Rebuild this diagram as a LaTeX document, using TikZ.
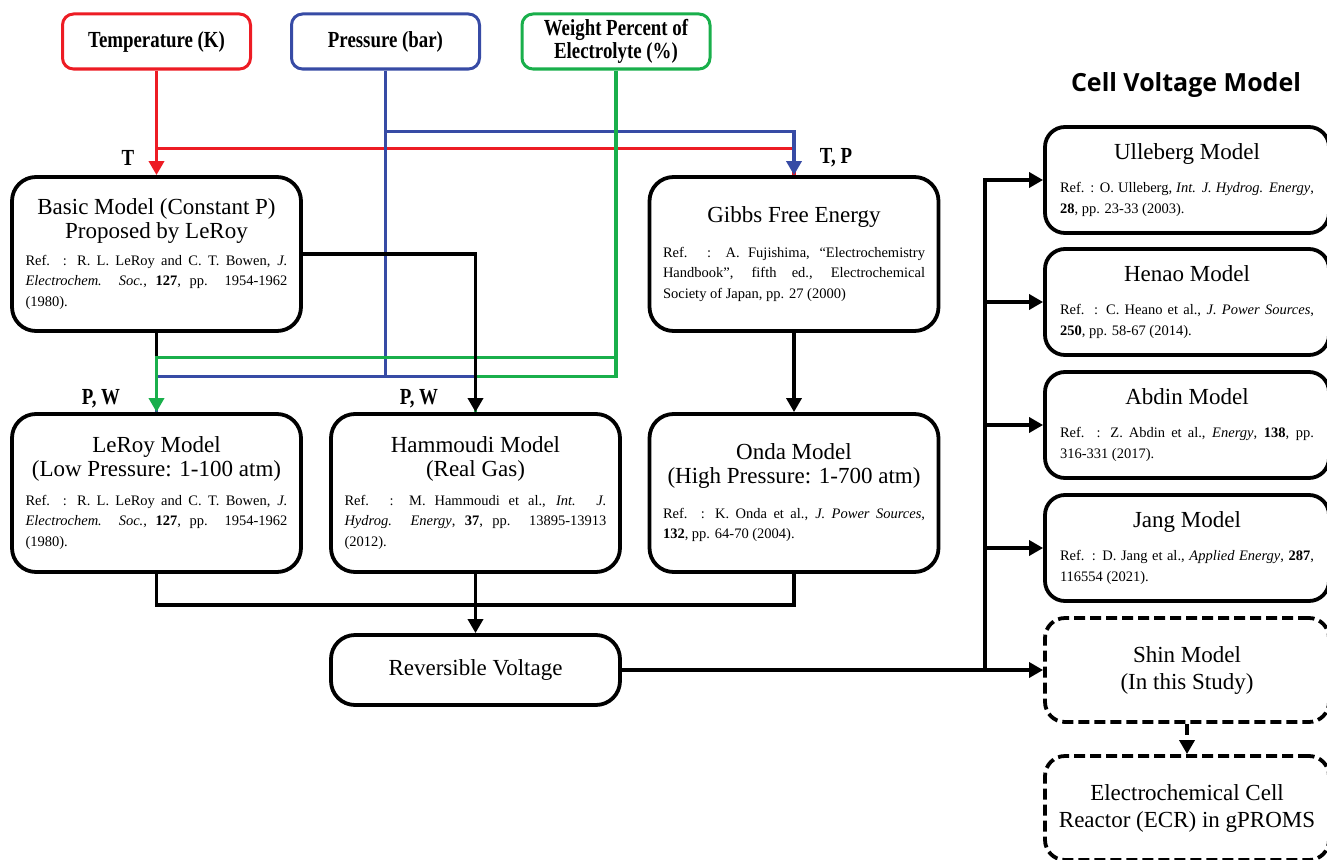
\documentclass[tikz,border=0pt]{standalone}
\usepackage{fontspec}
\setmainfont{Liberation Serif}
\newfontfamily\hdrfont{Liberation Serif}[FakeStretch=0.82]
\newfontfamily\cvfont{Open Sans}
\usetikzlibrary{arrows.meta,positioning}
\definecolor{tred}{RGB}{237,28,36}
\definecolor{pblue}{RGB}{55,75,165}
\definecolor{wgreen}{RGB}{25,175,75}
\newcommand{\mdl}[3][8pt]{{\centering\fontsize{23}{24}\selectfont #2\par}\vspace{#1}{\hyphenpenalty=10000\fontsize{14.5}{20.5}\selectfont #3\par}}
\tikzset{
  box/.style={draw, line width=3.8pt, rounded corners=24pt, minimum width=289pt, minimum height=154pt},
  mbox/.style={box, text width=262pt, align=justify},
  rbox/.style={mbox, rounded corners=20pt, minimum width=284pt, minimum height=106pt, text width=254pt},
  inbox/.style={draw, line width=3pt, rounded corners=11pt, minimum width=188pt, minimum height=55pt, align=center, font=\hdrfont\bfseries\fontsize{23}{23}\selectfont},
  lbl/.style={font=\hdrfont\bfseries\fontsize{23}{23}\selectfont},
  conn/.style={line width=3.4pt},
  dashbox/.style={dash pattern=on 11pt off 5pt},
  ttl/.style={font=\fontsize{23}{27}\selectfont}
}

\begin{document}
\begin{tikzpicture}[x=1pt, y=-1pt, >={Triangle[length=14pt,width=15pt]}]
    \path[use as bounding box] (0,0) rectangle (1327,859);
    \clip (0,0) rectangle (1327,859);

    \node[inbox, tred] (temp) at (156.5,41.5) {\color{black}Temperature (K)};
    \node[inbox, pblue] (press) at (385.5,41.5) {\color{black}Pressure (bar)};
    \node[inbox, wgreen] (wt) at (616,41.5) {\color{black}Weight Percent of\\\color{black}Electrolyte (\%)};

    \node[mbox] (basic) at (156.5,254) {\mdl[6pt]{Basic Model (Constant P)\\Proposed by LeRoy}{Ref. : R. L. LeRoy and C. T. Bowen, \textit{J.}\linebreak \textit{Electrochem. Soc.}, \textbf{127}, pp. 1954-1962\linebreak (1980).}};
    \node[mbox] (gibbs) at (794,254) {\mdl[14pt]{Gibbs Free Energy}{Ref. : A. Fujishima, ``Electrochemistry\linebreak Handbook'', fifth ed., Electrochemical\linebreak Society of Japan, pp. 27 (2000)}};
    \node[mbox, minimum height=158pt] (leroy) at (156.5,493) {\mdl{LeRoy Model\\(Low Pressure: 1-100 atm)}{Ref. : R. L. LeRoy and C. T. Bowen, \textit{J.}\linebreak \textit{Electrochem. Soc.}, \textbf{127}, pp. 1954-1962\linebreak (1980).}};
    \node[mbox, minimum height=158pt] (hamm) at (475.5,493) {\mdl{Hammoudi Model\\(Real Gas)}{Ref. : M. Hammoudi et al., \textit{Int. J.}\linebreak \textit{Hydrog. Energy}, \textbf{37}, pp. 13895-13913\linebreak (2012).}};
    \node[mbox, minimum height=158pt] (onda) at (794,493) {\mdl[14pt]{Onda Model\\(High Pressure: 1-700 atm)}{Ref. : K. Onda et al., \textit{J. Power Sources},\linebreak \textbf{132}, pp. 64-70 (2004).}};
    \node[box, minimum height=70pt, ttl] (rev) at (475.5,670) {Reversible Voltage};

    \node[lbl] (tlbl) at (128,158) {T};
    \node[lbl] (tplbl) at (836,158) {T, P};
    \node[lbl] (pw1) at (101,399) {P, W};
    \node[lbl] (pw2) at (419,399) {P, W};

    \node[font=\cvfont\bfseries\fontsize{25}{25}\selectfont] (cvm) at (1186,85) {Cell Voltage Model};
    \node[rbox] (ulle) at (1187,180) {\mdl[13pt]{Ulleberg Model}{Ref. : O. Ulleberg, \textit{Int. J. Hydrog. Energy},\linebreak \textbf{28}, pp. 23-33 (2003).}};
    \node[rbox] (henao) at (1187,302) {\mdl[13pt]{Henao Model}{Ref. : C. Heano et al., \textit{J. Power Sources},\linebreak \textbf{250}, pp. 58-67 (2014).}};
    \node[rbox] (abdin) at (1187,425) {\mdl[13pt]{Abdin Model}{Ref. : Z. Abdin et al., \textit{Energy}, \textbf{138}, pp.\linebreak 316-331 (2017).}};
    \node[rbox] (jang) at (1187,548) {\mdl[13pt]{Jang Model}{Ref. : D. Jang et al., \textit{Applied Energy}, \textbf{287},\linebreak 116554 (2021).}};
    \node[box, rounded corners=20pt, dashbox, minimum width=284pt, minimum height=104pt, align=center, ttl] (shin) at (1187,670) {Shin Model\\(In this Study)};
    \node[box, rounded corners=20pt, dashbox, minimum width=284pt, minimum height=104pt, align=center, ttl] (ecr) at (1187,808) {Electrochemical Cell\\Reactor (ECR) in gPROMS};

    \draw[conn] (basic) -- (leroy);
    \draw[conn] (leroy.south) -- ++(0,31) -| (onda.south);
    \draw[conn,->] (hamm) -- (rev);
    \draw[conn,->] (gibbs) -- (onda);

    \draw[conn,tred,->] (temp) -- (basic);
    \draw[conn,tred] (temp.south) ++(0,78) -| (gibbs.north);

    \draw[conn,pblue] (press.south) -- ++(0,306) -| (leroy.north);
    \draw[conn,pblue] (press.south) ++(0,306) -| (hamm.north);
    \draw[conn,pblue,->] (press.south) ++(0,61) -| (gibbs.north);

    \draw[conn,wgreen,->] (wt.south) -- ++(0,287) -| (leroy.north);
    \draw[conn,wgreen] (wt.south) ++(0,287) -- ++(0,19) -| (hamm.north);

    \draw[conn,->] (basic.east) -| (hamm.north);

    \coordinate (split) at (985,670);
    \draw[conn,->] (rev) -- (shin);
    \foreach \m in {ulle,henao,abdin,jang}
        \draw[conn,->] (split) |- (\m.west);
    \draw[conn,dashbox,->] (shin) -- (ecr);
\end{tikzpicture}
\end{document}
